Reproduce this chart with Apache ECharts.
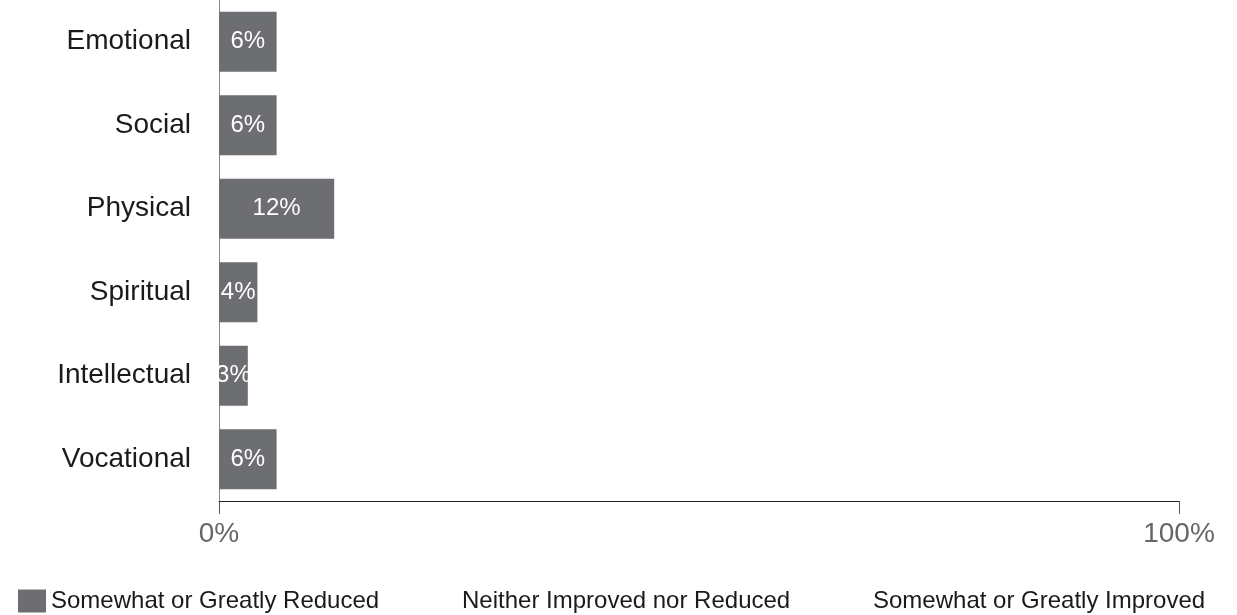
<!DOCTYPE html>
<html>
<head>
<meta charset="utf-8">
<script src="https://cdn.jsdelivr.net/npm/echarts@6/dist/echarts.min.js"></script>
<style>
html,body{margin:0;padding:0;background:#fff;}
#chart{width:1237px;height:615px;}
</style>
</head>
<body>
<div id="chart"></div>
<script>
var categories = ['Emotional', 'Social', 'Physical', 'Spiritual', 'Intellectual', 'Vocational'];
var reducedValues = [6, 6, 12, 4, 3, 6];
var seriesNames = ['Somewhat or Greatly Reduced', 'Neither Improved nor Reduced', 'Somewhat or Greatly Improved'];
var xTickLabels = ['0%', '100%'];

var FONT = '"Liberation Sans", Arial, Helvetica, sans-serif';
var chart = echarts.init(document.getElementById('chart'), null, {renderer: 'canvas'});

function legendAt(name, left) {
  return {
    data: [name],
    left: left,
    top: 584,
    orient: 'horizontal',
    itemWidth: 28,
    itemHeight: 23,
    icon: 'rect',
    selectedMode: false,
    textStyle: {fontFamily: FONT, fontSize: 24, color: '#1a1a1a', padding: [0, 0, 0, 0]}
  };
}

var option = {
  animation: false,
  backgroundColor: '#fff',
  grid: {left: 219, right: 58, top: -4, bottom: 114, containLabel: false},
  legend: [
    legendAt(seriesNames[0], 13),
    legendAt(seriesNames[1], 424),
    legendAt(seriesNames[2], 835)
  ],
  xAxis: {
    type: 'value',
    min: 0,
    max: 100,
    interval: 100,
    axisLine: {show: true, lineStyle: {color: '#222', width: 1}},
    axisTick: {show: true, length: 13, lineStyle: {color: '#555', width: 1}},
    splitLine: {show: false},
    axisLabel: {
      margin: 19,
      fontFamily: FONT,
      fontSize: 28,
      color: '#666',
      formatter: function (v) { return v === 0 ? xTickLabels[0] : (v === 100 ? xTickLabels[1] : ''); }
    }
  },
  yAxis: {
    type: 'category',
    data: categories,
    inverse: true,
    axisLine: {show: true, lineStyle: {color: '#888', width: 1}},
    axisTick: {show: false},
    axisLabel: {margin: 28, fontFamily: FONT, fontSize: 28, color: '#1a1a1a'}
  },
  series: [
    {
      name: seriesNames[0],
      type: 'bar',
      stack: 'total',
      data: reducedValues,
      barWidth: 60,
      itemStyle: {color: '#6d6e71'},
      label: {
        show: true,
        position: 'inside',
        fontFamily: FONT,
        fontSize: 24,
        color: '#ffffff',
        formatter: function (p) { return p.value + '%'; }
      }
    },
    {
      name: seriesNames[1],
      type: 'bar',
      stack: 'total',
      data: [],
      itemStyle: {color: 'rgba(255,255,255,0)'}
    },
    {
      name: seriesNames[2],
      type: 'bar',
      stack: 'total',
      data: [],
      itemStyle: {color: 'rgba(255,255,255,0)'}
    }
  ]
};
chart.setOption(option);
</script>
</body>
</html>
